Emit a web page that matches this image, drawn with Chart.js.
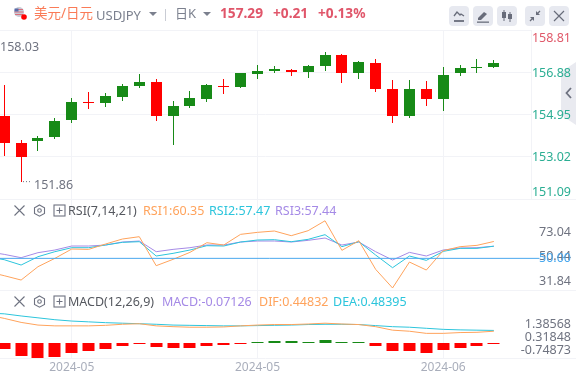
<!DOCTYPE html>
<html>
<head>
<meta charset="utf-8">
<script src="https://cdn.jsdelivr.net/npm/chart.js@4"></script>
<style>
    html, body { margin: 0; padding: 0; background: #fff; }
    body { position: relative; width: 576px; height: 380px; overflow: hidden; font-family: "Noto Sans", "Noto Sans CJK SC", sans-serif; }
    canvas { position: absolute; left: 0; top: 0; }
    .t { position: absolute; white-space: nowrap; line-height: 16px; }
    .btn { position: absolute; top: 6px; width: 20px; height: 20px; background: #e7e9f0; border-radius: 4px; }
    .btn svg, .ico { position: absolute; left: 0; top: 0; }
    #tab { position: absolute; left: 561px; top: 62px; width: 15px; height: 63px; background: #e9eaf0; clip-path: polygon(0 10px, 100% 0, 100% 100%, 0 calc(100% - 10px)); }
</style>
</head>
<body>
<div id="tab"></div>
<svg class="ico" style="left:564px;top:86px" width="10" height="14" fill="none" stroke="#6e7280" stroke-width="1.800"><path d="M7 2L2.500 7 7 12"/></svg>
<canvas id="kline" width="576" height="380"></canvas>

<!-- header -->
<svg class="ico" style="left:13px;top:6px" width="16" height="16">
    <circle cx="6" cy="6" r="5" fill="#c9cbd6"/>
    <path d="M2 3.5h8M1.5 6h9M2 8.500h8" stroke="#d9707c" stroke-width="1"/>
    <path d="M1.500 2.500h4v3h-4z" fill="#5a6ca8"/>
    <circle cx="11" cy="11" r="2.800" fill="#f00"/>
</svg>
<div class="t" style="left:34px;top:5px;font-size:13.500px;color:#fa7b57">美元/日元</div>
<div class="t" style="left:96px;top:7px;font-size:13px;color:#7b808e">USDJPY</div>
<svg class="ico" style="left:149px;top:12px" width="8" height="5"><path d="M0 0h8l-4 4z" fill="#7b808e"/></svg>
<div style="position:absolute;left:165px;top:9px;width:1px;height:12px;background:#c9ccd4"></div>
<div class="t" style="left:175px;top:5px;font-size:13px;color:#7b808e">日K</div>
<svg class="ico" style="left:203px;top:12px" width="8" height="5"><path d="M0 0h8l-4 4z" fill="#7b808e"/></svg>
<div class="t" style="left:220px;top:5px;font-size:13.700px;font-weight:bold;color:#e0566a">157.29</div>
<div class="t" style="left:273px;top:5px;font-size:13.700px;font-weight:bold;color:#e0566a">+0.21</div>
<div class="t" style="left:318px;top:5px;font-size:13.700px;font-weight:bold;color:#e0566a">+0.13%</div>

<!-- toolbar -->
<div class="btn" style="left:449px"><svg width="20" height="20" fill="none" stroke="#686c7a" stroke-width="1.300"><path d="M5 10l3-4 3 3 1-1 3 2"/><path d="M5 15h10" stroke-width="1.800"/></svg></div>
<div class="btn" style="left:473px"><svg width="20" height="20" fill="#686c7a"><path d="M5 12l6-6 3 2-6 6H5z"/><path d="M4 15.500h12v1.300H4z"/></svg></div>
<div class="btn" style="left:497px"><svg width="20" height="20" fill="#686c7a" stroke="#686c7a"><path d="M7 4v11M13 6v10" stroke-width="1"/><path d="M5 6h4v6H5zM11 8h4v5h-4z" stroke="none"/></svg></div>
<div class="btn" style="left:525px"><svg width="20" height="20" fill="#686c7a" stroke="#686c7a"><path d="M15 5l-3.500 3.500M5 15l3.500-3.500" stroke-width="1.300"/><path d="M11 5v4h4zM5 11h4v4z" stroke="none"/></svg></div>
<div class="btn" style="left:549px"><svg width="20" height="20" stroke="#686c7a" stroke-width="1.200"><path d="M5 5l10 10M15 5L5 15"/></svg></div>

<!-- RSI legend -->
<svg class="ico" style="left:13px;top:204px" width="70" height="14" fill="none" stroke="#6e7280" stroke-width="1.100">
    <path d="M1.500 1.500l10 10M11.500 1.500l-10 10"/>
    <path d="M26.500 1l5 2.800v5.600l-5 2.800-5-2.800V3.800z"/><circle cx="26.500" cy="6.500" r="1.800"/>
    <rect x="41" y="1" width="11" height="11"/><path d="M46.500 3.500v6M43.500 6.500h6"/>
</svg>
<div class="t" style="left:68px;top:203px;font-size:12.500px;color:#55585f">RSI(7,14,21)</div>
<div class="t" style="left:143px;top:203px;font-size:12.500px;color:#ffa35c">RSI1:60.35</div>
<div class="t" style="left:209px;top:203px;font-size:12.500px;color:#2cc5dc">RSI2:57.47</div>
<div class="t" style="left:275px;top:203px;font-size:12.500px;color:#a58ae6">RSI3:57.44</div>

<!-- MACD legend -->
<svg class="ico" style="left:13px;top:295px" width="70" height="14" fill="none" stroke="#6e7280" stroke-width="1.100">
    <path d="M1.500 1.500l10 10M11.500 1.500l-10 10"/>
    <path d="M26.500 1l5 2.800v5.600l-5 2.800-5-2.800V3.800z"/><circle cx="26.500" cy="6.500" r="1.800"/>
    <rect x="41" y="1" width="11" height="11"/><path d="M46.500 3.500v6M43.500 6.500h6"/>
</svg>
<div class="t" style="left:68px;top:294px;font-size:12.500px;color:#55585f">MACD(12,26,9)</div>
<div class="t" style="left:162px;top:294px;font-size:12.500px;color:#a58ae6">MACD:-0.07126</div>
<div class="t" style="left:259px;top:294px;font-size:12.500px;color:#ffa35c">DIF:0.44832</div>
<div class="t" style="left:333px;top:294px;font-size:12.500px;color:#2cc5dc">DEA:0.48395</div>

<script>
// candles, one per day on screen
const opens  = [154.90,153.66,153.72,153.91,154.69,155.50,155.47,155.75,156.24,156.42,154.87,155.36,155.64,156.24,156.19,156.80,156.94,156.99,156.88,157.16,157.66,156.83,157.29,156.10,154.86,156.10,155.64,156.83,157.08,157.11];
const closes = [153.63,152.99,153.89,154.67,155.50,155.46,155.78,156.24,156.42,154.87,155.36,155.69,156.28,156.21,156.83,156.93,157.02,156.90,157.16,157.66,156.83,157.34,156.10,154.86,156.10,155.64,156.74,157.06,157.11,157.29];
const highs  = [156.28,153.79,153.99,154.77,155.69,155.96,155.92,156.33,156.79,156.56,155.55,156.01,156.33,156.56,156.83,157.20,157.16,157.02,157.20,157.80,157.71,157.39,157.48,156.51,156.51,156.47,157.11,157.20,157.48,157.43];
const lows   = [153.04,151.86,153.30,153.85,154.54,155.18,155.27,155.55,156.15,154.67,153.57,155.23,155.50,155.87,156.15,156.56,156.83,156.70,156.60,156.93,156.37,156.56,155.96,154.54,154.81,155.36,155.13,156.70,156.83,157.06];

// indicator lines start one day earlier, off the left edge
const rsi1 = [41.82,39.37,36.71,44.89,50.00,55.73,55.52,58.79,61.86,63.29,45.50,49.39,53.68,59.61,58.18,64.72,65.95,66.77,63.91,66.97,73.04,54.91,60.84,43.25,31.84,47.75,42.84,54.70,57.16,57.98,60.35];
const rsi2 = [51.02,49.18,45.91,51.02,54.09,56.54,56.54,58.18,59.82,60.22,51.43,53.07,55.11,57.77,57.57,60.02,61.25,61.45,60.22,61.66,64.52,57.16,60.22,52.04,44.27,51.43,48.77,54.29,56.13,56.13,57.47];
const rsi3 = [54.09,52.45,50.41,53.48,55.11,57.57,57.57,58.18,60.02,60.63,54.09,55.52,56.54,58.18,58.18,60.02,60.63,60.63,60.02,61.04,62.47,58.18,60.02,54.09,48.98,53.68,51.43,55.11,56.34,56.54,57.44];
const dif  = [1.06,0.93,0.78,0.68,0.65,0.65,0.65,0.67,0.71,0.73,0.65,0.62,0.60,0.60,0.61,0.65,0.68,0.70,0.70,0.72,0.75,0.72,0.70,0.62,0.49,0.45,0.37,0.37,0.40,0.41,0.45];
const dea  = [1.13,1.10,1.02,0.95,0.88,0.83,0.80,0.77,0.75,0.73,0.71,0.68,0.67,0.66,0.65,0.65,0.66,0.67,0.68,0.70,0.71,0.71,0.70,0.66,0.62,0.60,0.56,0.52,0.50,0.49,0.48];
const macdBars = [-0.20,-0.46,-0.55,-0.51,-0.35,-0.27,-0.20,-0.09,-0.015,-0.14,-0.16,-0.17,-0.09,-0.05,-0.015,0.01,0.07,0.07,0.06,0.12,0.01,0.01,-0.09,-0.29,-0.27,-0.35,-0.25,-0.17,-0.09,-0.04];

// tick labels
const priceTicks = [158.81,156.88,154.95,153.02,151.09];
const dateTicks = [4,15,26];
const dateLabels = ['2024-05','2024-05','2024-06'];
const rsiLabels = ['73.04','50.44','31.84'];
const macdLabels = ['1.38568','0.31848','-0.74873'];
const topPrice = 158.03;
const lowPrice = 151.86;
const midRsi = 50;

const RED = '#ff0000';
const GREEN = '#178a17';
const GRID = '#f2f3f7';
const GRAY = '#6f7380';
const TEAL = '#2bae93';
const PRICE_RED = '#e0596a';
const BLUE = '#4aa8ee';
const FONT = '12.5px "Noto Sans"';
const X_MIN = -0.25;
const X_MAX = 31.2;

const candleColor = opens.map((o, i) => closes[i] >= o ? GREEN : RED);

function lineSet(values, color, axis) {
    return {
        type: 'line',
        data: values.map((v, i) => ({ x: i - 1, y: v })),
        yAxisID: axis,
        borderColor: color,
        borderWidth: 1,
        pointRadius: 0,
        tension: 0,
        order: 1
    };
}

function fixedTicks(values) {
    return scale => { scale.ticks = values.map(v => ({ value: v })); };
}

function fixWidth(scale) {
    scale.width = 45;
}

// bars land on whole pixels so wicks and dojis stay sharp
const snapBars = {
    id: 'snapBars',
    afterDatasetsUpdate(chart) {
        chart.data.datasets.forEach((set, i) => {
            if (set.type === 'line') return;
            chart.getDatasetMeta(i).data.forEach(bar => {
                bar.x = Math.floor(bar.x) + 0.5;
                const top = Math.round(bar.y);
                const bottom = Math.round(bar.base);
                bar.y = top;
                bar.base = bottom === top ? top + 1 : bottom;
            });
        });
    }
};

// axis labels are clamped inside their panels, so they are written by hand
const sideLabels = {
    id: 'sideLabels',
    afterDraw(chart) {
        const ctx = chart.ctx;
        const price = chart.scales.y;
        const rsi = chart.scales.yRsi;
        ctx.save();
        ctx.font = FONT;
        ctx.textBaseline = 'middle';
        ctx.textAlign = 'right';

        priceTicks.forEach((v, i) => {
            const y = Math.min(Math.max(price.getPixelForValue(v), price.top + 8), price.bottom - 8);
            ctx.fillStyle = i === 0 ? PRICE_RED : TEAL;
            ctx.fillText(v.toFixed(2), 571, i === 0 ? y : y + 1);
        });

        ctx.fillStyle = GRAY;
        ctx.fillText(rsiLabels[0], 571, 232);
        ctx.fillText(rsiLabels[1], 571, 256);
        ctx.fillText(rsiLabels[2], 571, 281);
        ctx.fillStyle = BLUE;
        ctx.fillText(midRsi.toFixed(2), 571, rsi.getPixelForValue(midRsi));

        ctx.fillStyle = GRAY;
        ctx.fillText(macdLabels[0], 571, 324);
        ctx.fillText(macdLabels[1], 571, 337);
        ctx.fillText(macdLabels[2], 571, 350);

        // high and low of the visible range
        ctx.textAlign = 'left';
        ctx.fillStyle = GRAY;
        ctx.fillText(topPrice.toFixed(2), 0, price.getPixelForValue(topPrice));
        ctx.fillText(lowPrice.toFixed(2), 34, price.getPixelForValue(lowPrice) + 3);
        ctx.setLineDash([1, 2]);
        ctx.strokeStyle = GRAY;
        ctx.beginPath();
        ctx.moveTo(23, price.getPixelForValue(lowPrice) - 0.5);
        ctx.lineTo(32, price.getPixelForValue(lowPrice) - 0.5);
        ctx.stroke();
        ctx.restore();
    }
};

new Chart(document.querySelector('#kline').getContext('2d'), {
    type: 'bar',
    data: {
        datasets: [
            {
                data: highs.map((h, i) => ({ x: i, y: [lows[i], h] })),
                backgroundColor: candleColor,
                barThickness: 1,
                grouped: false,
                inflateAmount: 0,
                order: 3
            },
            {
                data: opens.map((o, i) => ({ x: i, y: [o, closes[i]] })),
                backgroundColor: candleColor,
                barThickness: 11,
                minBarLength: 1,
                grouped: false,
                inflateAmount: 0,
                order: 2
            },
            lineSet(rsi1, '#ffa35c', 'yRsi'),
            lineSet(rsi2, '#2cc5dc', 'yRsi'),
            lineSet(rsi3, '#a58ae6', 'yRsi'),
            {
                type: 'line',
                data: [{ x: X_MIN, y: midRsi }, { x: 31.7, y: midRsi }],
                yAxisID: 'yRsi',
                borderColor: BLUE,
                borderWidth: 1,
                pointRadius: 0,
                clip: false,
                order: 0
            },
            {
                data: macdBars.map((v, i) => ({ x: i, y: v })),
                yAxisID: 'yMacd',
                backgroundColor: macdBars.map(v => v >= 0 ? GREEN : RED),
                barThickness: 12,
                minBarLength: 1,
                grouped: false,
                inflateAmount: 0,
                order: 2
            },
            lineSet(dif, '#ffa35c', 'yMacd'),
            lineSet(dea, '#2cc5dc', 'yMacd')
        ]
    },
    options: {
        responsive: false,
        animation: false,
        events: [],
        layout: { padding: { top: 30, left: 0, right: 0, bottom: 0 } },
        plugins: { legend: { display: false }, tooltip: { enabled: false } },
        scales: {
            x: {
                type: 'linear',
                min: X_MIN,
                max: X_MAX,
                offset: false,
                afterBuildTicks: fixedTicks(dateTicks),
                afterFit: scale => { scale.height = 22; },
                grid: { color: GRID, offset: false, drawTicks: false },
                border: { display: false },
                ticks: {
                    autoSkip: false,
                    maxRotation: 0,
                    padding: 2,
                    color: '#a9aebb',
                    font: { family: 'Noto Sans', size: 12 },
                    callback: (v, i) => dateLabels[i]
                }
            },
            y: {
                position: 'right',
                stack: 'panels',
                stackWeight: 169,
                min: 151.09,
                max: 158.81,
                afterBuildTicks: fixedTicks(priceTicks),
                afterFit: fixWidth,
                grid: { color: GRID, drawTicks: false },
                border: { display: true, color: GRID },
                ticks: { display: false }
            },
            yRsi: {
                position: 'right',
                stack: 'panels',
                stackWeight: 91,
                min: 30.6,
                max: 86.4,
                afterBuildTicks: fixedTicks([30.6, 86.4]),
                afterFit: fixWidth,
                grid: { color: GRID, tickLength: 45, tickColor: GRID },
                border: { display: false },
                ticks: { display: false }
            },
            yMacd: {
                position: 'right',
                stack: 'panels',
                stackWeight: 68,
                min: -0.55,
                max: 1.99,
                afterBuildTicks: fixedTicks([-0.55, 1.99]),
                afterFit: fixWidth,
                grid: { color: GRID, tickLength: 45, tickColor: GRID },
                border: { display: false },
                ticks: { display: false }
            }
        }
    },
    plugins: [snapBars, sideLabels]
});
</script>
</body>
</html>
